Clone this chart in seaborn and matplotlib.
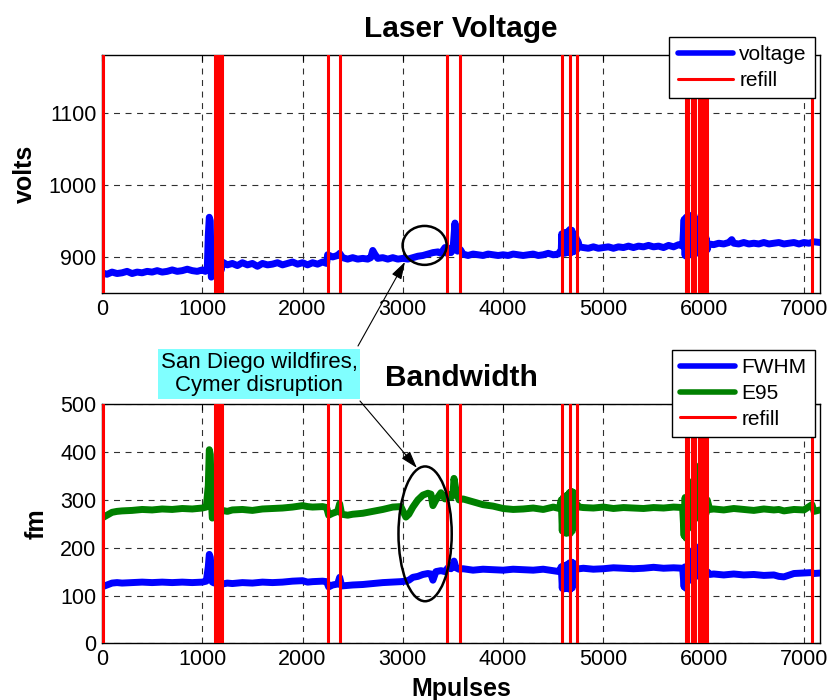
import numpy as np
import pandas as pd
import matplotlib
matplotlib.use("Agg")
import matplotlib.pyplot as plt
from matplotlib.patches import Ellipse
import seaborn as sns

# ---------------- data ----------------
volt_x = [0, 50, 100, 150, 200, 250, 300, 350, 400, 450,
          500, 550, 600, 650, 700, 750, 800, 850, 900, 950,
          1000, 1030, 1050, 1060, 1070, 1080, 1085, 1090, 1100, 1110,
          1120, 1130, 1150, 1170, 1190, 1200, 1250, 1300, 1350, 1400,
          1450, 1500, 1550, 1600, 1650, 1700, 1750, 1800, 1850, 1900,
          1950, 2000, 2050, 2100, 2150, 2200, 2240, 2250, 2300, 2350,
          2370, 2400, 2450, 2500, 2550, 2600, 2650, 2680, 2700, 2720,
          2750, 2800, 2850, 2900, 2950, 3000, 3050, 3100, 3150, 3200,
          3250, 3300, 3350, 3380, 3420, 3440, 3460, 3480, 3500, 3520,
          3530, 3545, 3575, 3600, 3650, 3700, 3750, 3800, 3850, 3900,
          3950, 4000, 4050, 4100, 4150, 4200, 4250, 4300, 4350, 4400,
          4450, 4500, 4550, 4580, 4585, 4595, 4605, 4615, 4625, 4635,
          4645, 4655, 4665, 4675, 4685, 4695, 4705, 4715, 4725, 4735,
          4745, 4760, 4800, 4850, 4900, 4950, 5000, 5050, 5100, 5150,
          5200, 5250, 5300, 5350, 5400, 5450, 5500, 5550, 5600, 5650,
          5700, 5750, 5790, 5805, 5815, 5825, 5835, 5845, 5855, 5865,
          5875, 5885, 5895, 5905, 5915, 5925, 5935, 5945, 5955, 5965,
          5975, 5985, 5995, 6005, 6015, 6025, 6035, 6050, 6100, 6150,
          6200, 6250, 6280, 6300, 6350, 6400, 6450, 6500, 6550, 6600,
          6650, 6700, 6750, 6800, 6850, 6900, 6950, 7000, 7050, 7100,
          7160]
volt_y = [878, 876, 879, 877, 878, 880, 877, 879, 878, 880,
          879, 881, 879, 880, 882, 880, 881, 883, 881, 880,
          882, 880, 884, 930, 955, 950, 900, 872, 876, 895,
          880, 900, 880, 898, 882, 893, 889, 891, 888, 892,
          889, 891, 887, 891, 889, 890, 892, 889, 891, 893,
          890, 892, 889, 892, 890, 893, 891, 903, 900, 902,
          905, 899, 897, 899, 897, 898, 897, 899, 909, 904,
          898, 899, 897, 899, 897, 898, 897, 899, 901, 902,
          904, 906, 907, 905, 913, 905, 912, 906, 910, 947,
          930, 908, 910, 904, 902, 904, 903, 902, 904, 903,
          902, 903, 902, 904, 903, 902, 903, 904, 902, 903,
          905, 903, 904, 910, 932, 906, 933, 905, 934, 906,
          935, 907, 938, 906, 937, 907, 932, 908, 928, 910,
          922, 914, 913, 912, 914, 912, 913, 914, 912, 914,
          913, 915, 913, 915, 914, 916, 914, 915, 913, 916,
          914, 917, 915, 952, 902, 955, 900, 954, 903, 956,
          904, 958, 905, 957, 904, 952, 906, 935, 908, 930,
          906, 928, 908, 925, 907, 926, 910, 918, 917, 919,
          918, 920, 924, 919, 918, 920, 918, 919, 918, 920,
          918, 919, 920, 918, 919, 920, 918, 920, 919, 921,
          920]

bw_x = [0, 50, 100, 150, 200, 300, 400, 500, 600, 700,
        800, 900, 1000, 1040, 1060, 1070, 1080, 1090, 1100, 1120,
        1150, 1200, 1250, 1300, 1400, 1500, 1600, 1700, 1800, 1900,
        2000, 2050, 2100, 2200, 2240, 2260, 2300, 2350, 2370, 2390,
        2450, 2500, 2600, 2700, 2800, 2900, 2980, 3030, 3060, 3100,
        3150, 3200, 3250, 3280, 3300, 3330, 3380, 3420, 3450, 3480,
        3500, 3510, 3530, 3560, 3600, 3700, 3800, 3900, 4000, 4100,
        4200, 4300, 4400, 4500, 4560, 4580, 4590, 4600, 4610, 4620,
        4630, 4640, 4650, 4660, 4670, 4680, 4690, 4700, 4710, 4720,
        4730, 4760, 4800, 4900, 5000, 5100, 5200, 5300, 5400, 5500,
        5600, 5700, 5790, 5805, 5815, 5825, 5835, 5845, 5855, 5865,
        5875, 5885, 5895, 5905, 5915, 5925, 5935, 5945, 5955, 5965,
        5975, 5985, 5995, 6005, 6015, 6025, 6035, 6060, 6100, 6200,
        6300, 6400, 6500, 6600, 6700, 6750, 6800, 6900, 7000, 7080,
        7100, 7160]
e95_y = [262, 268, 274, 276, 277, 278, 280, 279, 281, 280,
         282, 281, 283, 285, 330, 405, 395, 300, 262, 275,
         268, 278, 276, 279, 280, 278, 281, 282, 283, 285,
         288, 286, 285, 286, 284, 268, 272, 276, 292, 270,
         268, 270, 272, 276, 280, 285, 286, 264, 270, 285,
         300, 310, 314, 312, 288, 300, 315, 302, 312, 305,
         310, 345, 320, 300, 302, 296, 290, 287, 282, 280,
         281, 283, 280, 285, 282, 300, 235, 305, 232, 308,
         230, 310, 232, 315, 230, 318, 235, 316, 290, 300,
         292, 285, 284, 283, 285, 282, 284, 283, 282, 284,
         283, 285, 284, 225, 305, 220, 300, 240, 310, 250,
         320, 255, 340, 260, 372, 265, 360, 262, 330, 270,
         320, 268, 310, 270, 305, 272, 300, 280, 281, 279,
         282, 280, 278, 281, 279, 280, 277, 280, 279, 290,
         276, 279]
fwhm_y = [118, 122, 126, 127, 126, 127, 128, 127, 128, 127,
          128, 127, 128, 130, 160, 186, 180, 150, 128, 126,
          130, 124, 126, 125, 127, 126, 128, 127, 128, 130,
          131, 128, 129, 130, 129, 118, 122, 124, 138, 120,
          121, 122, 123, 125, 127, 128, 129, 130, 132, 138,
          140, 144, 146, 145, 132, 150, 152, 150, 158, 156,
          162, 172, 158, 155, 156, 153, 155, 154, 153, 155,
          154, 153, 155, 152, 150, 160, 115, 162, 114, 163,
          116, 165, 114, 168, 113, 170, 116, 168, 140, 158,
          155, 156, 157, 155, 156, 158, 157, 156, 157, 159,
          157, 158, 157, 118, 160, 115, 158, 130, 165, 135,
          175, 140, 195, 138, 203, 140, 190, 142, 175, 145,
          168, 145, 160, 146, 155, 147, 150, 144, 145, 143,
          145, 143, 144, 142, 143, 140, 139, 146, 147, 148,
          146, 147]

refill_x = [5, 1125, 1140, 1155, 1170, 1185, 1195, 2250, 2370, 3440,
            3575, 4585, 4665, 4740, 5820, 5840, 5882, 5912, 5950, 5970,
            5990, 6010, 6030, 7085]

x_ticks = [0, 1000, 2000, 3000, 4000, 5000, 6000, 7000]
volt_ticks = [900, 1000, 1100]
bw_ticks = [0, 100, 200, 300, 400, 500]

volt_df = pd.DataFrame({"Mpulses": volt_x, "volts": volt_y})
bw_df = pd.DataFrame({"Mpulses": bw_x, "FWHM": fwhm_y, "E95": e95_y})

# ---------------- style ----------------
sns.set_style("white")
plt.rcParams["font.family"] = ["Liberation Sans", "DejaVu Sans"]
plt.rcParams["lines.scale_dashes"] = False
plt.rcParams["text.color"] = "black"
plt.rcParams["axes.labelcolor"] = "black"
plt.rcParams["xtick.color"] = "black"
plt.rcParams["ytick.color"] = "black"

BLUE = "#0000FF"
GREEN = "#008000"
RED = "#FF0000"

fig = plt.figure(figsize=(8.3, 7.0), dpi=100)
W, H = 830, 700
ax1 = fig.add_axes([102 / W, 1 - 293 / H, 718 / W, 238 / H])
ax2 = fig.add_axes([102 / W, 1 - 643.3 / H, 718 / W, 239 / H])

def style_axes(ax, yticks, ylim, ylabel):
    ax.set_xlim(0, 7160)
    ax.set_ylim(*ylim)
    ax.set_xticks(x_ticks)
    ax.set_yticks(yticks)
    ax.grid(True, color="#303030", linestyle=(0, (4.3, 4.0)), linewidth=0.8)
    ax.set_axisbelow(True)
    for s in ax.spines.values():
        s.set_visible(True)
        s.set_color("black")
        s.set_linewidth(1.0)
    ax.tick_params(direction="in", length=4, width=0.8, top=True, right=True,
                   labelsize=15.5, colors="black", pad=4)
    ax.set_ylabel(ylabel, fontsize=18, fontweight="bold", labelpad=8,
                  color="black")
    ax.set_xlabel("")

LW = 5.0
RLW = 2.2

# top: voltage
sns.lineplot(data=volt_df, x="Mpulses", y="volts", ax=ax1, color=BLUE,
             linewidth=LW, estimator=None, sort=False, label="voltage", zorder=3)
for i, rx in enumerate(refill_x):
    ax1.axvline(rx, color=RED, linewidth=RLW, zorder=4,
                label="refill" if i == 0 else None)
style_axes(ax1, volt_ticks, (850, 1180), "volts")
ax1.set_title("Laser Voltage", fontsize=21.5, fontweight="bold", pad=13,
              color="black")

# bottom: bandwidth
sns.lineplot(data=bw_df, x="Mpulses", y="FWHM", ax=ax2, color=BLUE,
             linewidth=LW, estimator=None, sort=False, label="FWHM", zorder=3)
sns.lineplot(data=bw_df, x="Mpulses", y="E95", ax=ax2, color=GREEN,
             linewidth=LW, estimator=None, sort=False, label="E95", zorder=3)
for i, rx in enumerate(refill_x):
    ax2.axvline(rx, color=RED, linewidth=RLW, zorder=4,
                label="refill" if i == 0 else None)
style_axes(ax2, bw_ticks, (0, 500), "fm")
ax2.set_title("Bandwidth", fontsize=21.5, fontweight="bold", pad=13,
              color="black")
ax2.set_xlabel("Mpulses", fontsize=18, fontweight="bold", labelpad=5,
               color="black")

# legends
for ax, top in ((ax1, 37), (ax2, 350)):
    leg = ax.legend(loc="upper right", bbox_to_anchor=(815 / W, 1 - top / H),
                    bbox_transform=fig.transFigure, borderaxespad=0,
                    fontsize=15, handlelength=2.65, handletextpad=0.3,
                    labelspacing=0.32, borderpad=0.4, fancybox=False,
                    framealpha=1, edgecolor="black", facecolor="white",
                    labelcolor="black")
    leg.get_frame().set_linewidth(1.0)
    leg.set_zorder(10)
    for h in leg.get_lines():
        if h.get_color().lower() in (BLUE.lower(), GREEN.lower()):
            h.set_linewidth(4.0)

# ellipses
ax1.add_patch(Ellipse((3217, 916), 439, 54, fill=False, edgecolor="black",
                      linewidth=1.8, zorder=6))
ax2.add_patch(Ellipse((3222, 229), 531, 282, fill=False, edgecolor="black",
                      linewidth=1.8, zorder=6))

# annotation box
fig.text(259 / W, 1 - 374 / H, "San Diego wildfires,\nCymer disruption",
         ha="center", va="center", fontsize=16, linespacing=1.12,
         color="black",
         bbox=dict(boxstyle="square,pad=0.12", facecolor="#80FFFF",
                   edgecolor="none"), zorder=20)

arrow_kw = dict(arrowstyle="-|>,head_length=0.7,head_width=0.22",
                color="black", lw=0.8, mutation_scale=15,
                shrinkA=0, shrinkB=0)
ax1.annotate("", xy=(3021, 893), xycoords="data",
             xytext=(358 / W, 1 - 346 / H), textcoords="figure fraction",
             arrowprops=arrow_kw, annotation_clip=False, zorder=7)
ax2.annotate("", xy=(3140, 367), xycoords="data",
             xytext=(360 / W, 1 - 401 / H), textcoords="figure fraction",
             arrowprops=arrow_kw, annotation_clip=False, zorder=7)

fig.savefig("out.png", dpi=100)
